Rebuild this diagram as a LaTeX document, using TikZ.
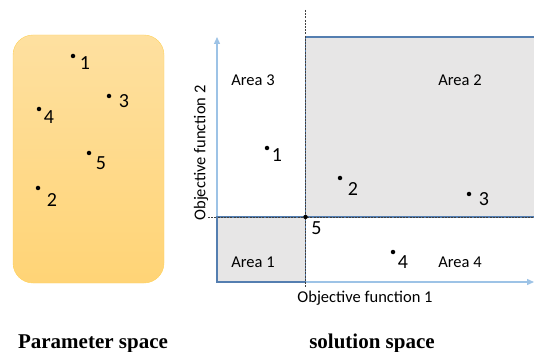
\documentclass[tikz,border=0pt]{standalone}
\usepackage{fontspec}
\setmainfont{Carlito}
\newfontfamily\capfont{Liberation Serif}
\usetikzlibrary{arrows.meta,shapes}
\definecolor{boxtop}{RGB}{254,224,160}
\definecolor{boxbot}{RGB}{255,212,118}
\definecolor{boxline}{RGB}{255,210,90}
\definecolor{axisblue}{RGB}{157,195,230}
\definecolor{areablue}{RGB}{84,126,176}
\definecolor{areagray}{RGB}{231,230,230}
\tikzstyle{point}=[circle,fill=black,minimum size=4.5pt,inner sep=0pt]
\tikzstyle{num}=[font=\fontsize{20}{22}\selectfont,inner sep=0pt]
\tikzstyle{area}=[fill=areagray,draw=areablue,line width=1.2pt]
\tikzstyle{arealabel}=[font=\fontsize{16.5}{18}\selectfont]
\tikzstyle{axis}=[draw=axisblue,line width=1.3pt,-{Triangle[length=7pt,width=6pt]}]
\tikzstyle{split}=[draw=black!75,line width=0.7pt,dash pattern=on 2pt off 1.2pt]
\tikzstyle{caption}=[font=\capfont\bfseries\fontsize{21}{24}\selectfont,anchor=base]

\begin{document}
\begin{tikzpicture}[x=1pt, y=-1pt]

    \useasboundingbox (0,0) rectangle (534,352);

    % parameter space
    \node[draw=boxline, rounded corners=20pt, top color=boxtop, bottom color=boxbot,
          minimum width=151pt, minimum height=248pt] (param) at (88.5,159) {};

    \foreach \x/\y/\dx/\dy/\name in {73/56/12/7/1, 38/188/14/12/2, 109/96/15/5/3, 39/109/10/8/4, 89/153/12/10/5}
        {
        \node[point] (p\name) at (\x,\y) {};
        \node[num] (lp\name) at (\x+\dx,\y+\dy) {\name};
        }

    % solution space
    \coordinate (origin) at (217,282);
    \coordinate (ytip) at (217,37);
    \coordinate (xtip) at (534,282);
    \coordinate (mid) at (305.5,217);

    \draw[area] (536,37) -- (mid |- 0,37) -- (mid) -- (536,217);
    \draw[area] (origin |- mid) rectangle (mid |- origin);

    \path[axis] (origin) -- (ytip);
    \path[axis] (origin) -- (xtip);
    \draw[area, fill=none] (origin |- mid) rectangle (mid |- origin);
    \draw[area, fill=none] (536,37) -- (mid |- 0,37) -- (mid) -- (536,217);

    \path[split] (305.5,10) -- (305.5,288);
    \path[split] (208,217) -- (536,217);

    \foreach \x/\y/\dx/\dy/\name in {267/148/10/7/1, 340/178/13/11/2, 469/194/15/5/3, 393/252/10/10/4, 305.5/217/11/11/5}
        {
        \node[point] (s\name) at (\x,\y) {};
        \node[num] (ls\name) at (\x+\dx,\y+\dy) {\name};
        }

    \foreach \x/\y/\name in {253/262/1, 460/80/2, 253/80/3, 460/262/4}
        \node[arealabel] (area\name) at (\x,\y) {Area \name};

    \node[arealabel] (xlabel) at (365,298) {Objective function 1};
    \node[arealabel, rotate=90] (ylabel) at (201,153) {Objective function 2};

    \node[caption] (pcap) at (93,348) {Parameter space};
    \node[caption] (scap) at (372,348) {solution space};

\end{tikzpicture}
\end{document}
